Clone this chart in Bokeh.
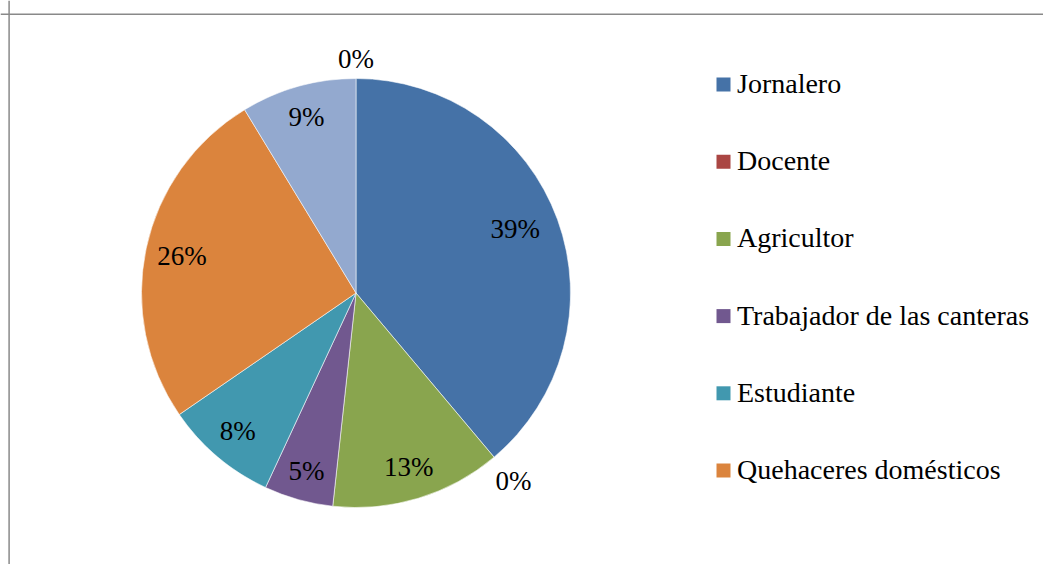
import math
from bokeh.plotting import figure
from bokeh.models import ColumnDataSource, Range1d, Span
from bokeh.core.properties import value
from bokeh.embed import file_html
from bokeh.resources import INLINE

# ---- data ----
categories = ["Jornalero", "Docente", "Agricultor", "Trabajador de las canteras",
              "Estudiante", "Quehaceres domésticos", "Otros", "Ninguno"]
percent = [38.87, 0.0, 12.86, 5.2, 8.48, 25.9, 8.69, 0.0]
colors = ["#4572A7", "#AA4643", "#89A54E", "#71588F", "#4198AF", "#DB843D", "#93A9CF", "#D19392"]
legend_count = 6  # only the first six entries are visible in the legend

# ---- layout ----
W, H = 1043, 564
CX, CY, R = 355.5, 271.5, 214.5
label_r = [0.80, 1.14, 0.845, 0.858, 0.845, 0.83, 0.855, 1.093]
label_dang = [-1.9, 0, 0, 0, 0.5, 0, 0, 0]  # degrees, best-fit nudges
FONT = value("Liberation Serif")

p = figure(width=W, height=H, output_backend="svg", toolbar_location=None,
           x_range=Range1d(0, W), y_range=Range1d(0, H), min_border=0,
           outline_line_color=None, background_fill_color="white")
p.axis.visible = False
p.grid.visible = False

total = sum(percent)
starts, ends, mids = [], [], []
acc = 0.0
for v in percent:
    s = acc / total
    acc += v
    e = acc / total
    starts.append(s); ends.append(e); mids.append((s + e) / 2)

# wedges (clockwise from 12 o'clock)
wx, wy, wsa, wea, wc = [], [], [], [], []
for i, v in enumerate(percent):
    if v <= 0:
        continue
    wx.append(CX); wy.append(CY)
    wsa.append(math.pi / 2 - 2 * math.pi * ends[i])
    wea.append(math.pi / 2 - 2 * math.pi * starts[i])
    wc.append(colors[i])
wsrc = ColumnDataSource(dict(x=wx, y=wy, sa=wsa, ea=wea, c=wc))
p.wedge(x="x", y="y", radius=R, start_angle="sa", end_angle="ea", fill_color="c",
        line_color="white", line_width=0.8, line_alpha=0.7, source=wsrc)

# percentage labels
lx, ly, lt = [], [], []
for i, v in enumerate(percent):
    th = 2 * math.pi * mids[i] + math.radians(label_dang[i])
    rr = label_r[i] * R
    lx.append(CX + rr * math.sin(th))
    ly.append(CY + rr * math.cos(th) - 0.5)
    lt.append(f"{round(v)}%")
lsrc = ColumnDataSource(dict(x=lx, y=ly, t=lt))
p.text(x="x", y="y", text="t", source=lsrc, text_font=FONT, text_font_size="27px",
       text_align="center", text_baseline="alphabetic", text_color="black")

# legend (manual)
LX, LY0, LSTEP = 723, 480, 77.2
gx = [LX] * legend_count
gy = [LY0 - k * LSTEP for k in range(legend_count)]
gsrc = ColumnDataSource(dict(x=gx, y=gy, c=colors[:legend_count],
                             tx=[LX + 13.5] * legend_count,
                             ty=[y + 1 for y in gy], t=categories[:legend_count]))
p.rect(x="x", y="y", width=14, height=14, fill_color="c", line_color=None, source=gsrc)
p.text(x="tx", y="ty", text="t", source=gsrc, text_font=FONT, text_font_size="28px",
       text_align="left", text_baseline="alphabetic", text_color="black")

# chart-area border (top and left edges visible)
p.add_layout(Span(location=550.3, dimension="width", line_color="#898989", line_width=1.5))
p.add_layout(Span(location=8.6, dimension="height", line_color="#898989", line_width=1.5))

open("out.html", "w").write(file_html(p, INLINE))
